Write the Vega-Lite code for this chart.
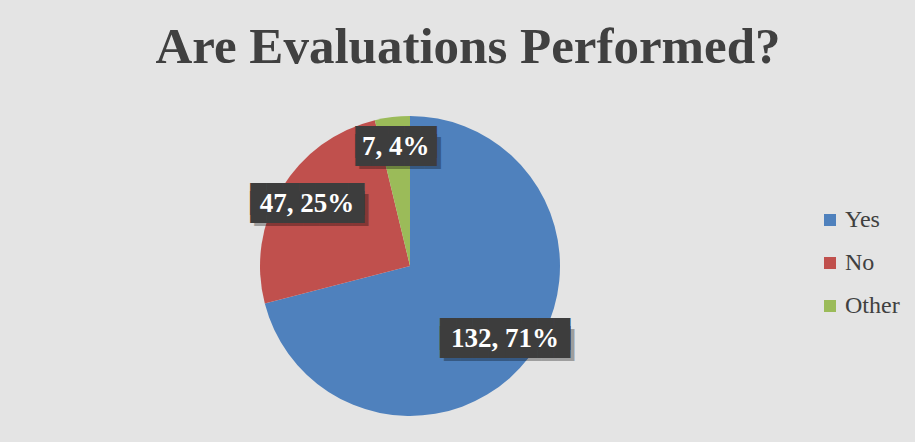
{
  "$schema": "https://vega.github.io/schema/vega-lite/v6.json",
  "width": 820,
  "height": 352,
  "autosize": {"type": "none"},
  "padding": {"top": 90, "left": 0, "right": 95, "bottom": 0},
  "background": "#e4e4e4",
  "title": {
    "text": "Are Evaluations Performed?",
    "font": "Liberation Serif",
    "fontSize": 51,
    "fontWeight": "bold",
    "color": "#404040",
    "anchor": "middle",
    "frame": "bounds",
    "offset": 16,
    "dx": 18
  },
  "data": {
    "values": [
      {"Category": "Yes", "Count": 132, "Label": "132, 71%"},
      {"Category": "No", "Count": 47, "Label": "47, 25%"},
      {"Category": "Other", "Count": 7, "Label": "7, 4%"}
    ]
  },
  "transform": [
    {"calculate": "indexof(['Yes','No','Other'], datum.Category)", "as": "ord"},
    {"calculate": "pad('', length(datum.Label), '█')", "as": "box"}
  ],
  "encoding": {
    "theta": {"field": "Count", "type": "quantitative", "stack": true},
    "order": {"field": "ord", "type": "quantitative"}
  },
  "layer": [
    {
      "mark": {"type": "arc", "outerRadius": 150},
      "encoding": {
        "color": {
          "field": "Category",
          "type": "nominal",
          "sort": ["Yes", "No", "Other"],
          "scale": {"domain": ["Yes", "No", "Other"], "range": ["#4f81bd", "#c0504d", "#9bbb59"]},
          "legend": {
            "orient": "none",
            "legendX": 818,
            "legendY": 118,
            "title": null,
            "symbolType": "square",
            "symbolSize": 144,
            "symbolStrokeWidth": 0,
            "labelFont": "Liberation Serif",
            "labelFontSize": 24,
            "labelColor": "#404040",
            "rowPadding": 19,
            "labelOffset": 3
          }
        }
      }
    },
    {
      "mark": {"type": "text", "radius": 120, "font": "DejaVu Sans Mono", "fontSize": 27, "color": "#000000", "opacity": 0.3, "dx": 4, "dy": 7},
      "encoding": {"text": {"field": "box"}}
    },
    {
      "mark": {"type": "text", "radius": 120, "font": "DejaVu Sans Mono", "fontSize": 27, "color": "#3d3d3d", "dy": -4},
      "encoding": {"text": {"field": "box"}}
    },
    {
      "mark": {"type": "text", "radius": 120, "font": "DejaVu Sans Mono", "fontSize": 27, "color": "#3d3d3d", "dy": 4},
      "encoding": {"text": {"field": "box"}}
    },
    {
      "mark": {"type": "text", "radius": 120, "font": "Liberation Serif", "fontSize": 27, "fontWeight": "bold", "color": "#ffffff"},
      "encoding": {"text": {"field": "Label"}}
    }
  ],
  "config": {"view": {"stroke": null}}
}
